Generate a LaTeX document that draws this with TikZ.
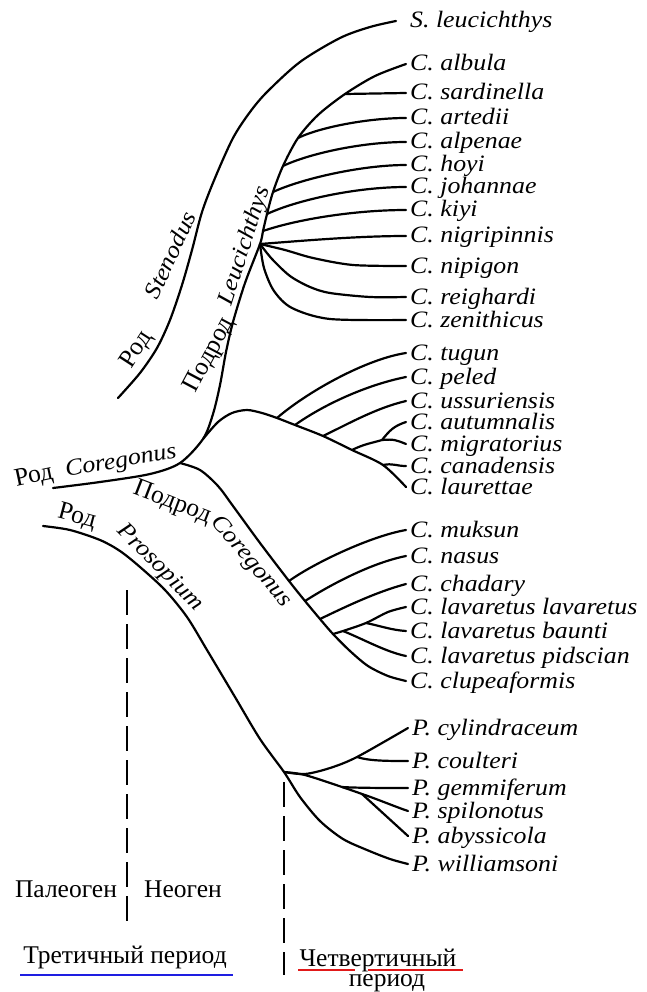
\documentclass[tikz,border=0pt]{standalone}
\usepackage{fontspec}
\setmainfont{Liberation Serif}
\newfontfamily\itfont[FakeStretch=1.1]{Liberation Serif}
\newcommand\leaffont{\itfont\itshape\fontsize{23.5pt}{26pt}\selectfont}
\newcommand\rufont{\rmfamily\upshape\fontsize{25.5pt}{28pt}\selectfont}
\definecolor{ublue}{RGB}{30,30,225}
\definecolor{ured}{RGB}{225,25,25}
\begin{document}
\begin{tikzpicture}[x=1pt,y=-1pt,
  br/.style={line width=2.2pt, line cap=round, line join=round},
  leaf/.style={anchor=west, inner xsep=4pt, inner ysep=0pt, text height=14pt, text depth=0pt, font=\leaffont},
  itlab/.style={inner sep=0pt, font=\leaffont},
  rulab/.style={inner sep=0pt, font=\rufont},
  era/.style={dash pattern=on 25pt off 9pt, line width=1.6pt},
  uline/.style={line width=2.8pt}
]
\useasboundingbox (0,0) rectangle (646,992);

% ---------- leaf labels ----------
\node[leaf] (sleu)   at (406,21)  {S. leucichthys};
\node[leaf] (albula) at (406,64)  {C. albula};
\node[leaf] (sard)   at (406,93)  {C. sardinella};
\node[leaf] (arted)  at (406,118) {C. artedii};
\node[leaf] (alpen)  at (406,142) {C. alpenae};
\node[leaf] (hoyi)   at (406,165) {C. hoyi};
\node[leaf] (johan)  at (406,187) {C. johannae};
\node[leaf] (kiyi)   at (406,210) {C. kiyi};
\node[leaf] (nigri)  at (406,236) {C. nigripinnis};
\node[leaf] (nipig)  at (406,266) {C. nipigon};
\node[leaf] (reigh)  at (406,297) {C. reighardi};
\node[leaf] (zenit)  at (406,320) {C. zenithicus};
\node[leaf] (tugun)  at (406,353) {C. tugun};
\node[leaf] (peled)  at (406,377) {C. peled};
\node[leaf] (ussur)  at (406,401) {C. ussuriensis};
\node[leaf] (autum)  at (406,422) {C. autumnalis};
\node[leaf] (migr)   at (406,444) {C. migratorius};
\node[leaf] (canad)  at (406,466) {C. canadensis};
\node[leaf] (laur)   at (406,487) {C. laurettae};
\node[leaf] (muks)   at (406,530) {C. muksun};
\node[leaf] (nasus)  at (406,556) {C. nasus};
\node[leaf] (chad)   at (406,584) {C. chadary};
\node[leaf] (lavl)   at (406,607) {C. lavaretus lavaretus};
\node[leaf] (baun)   at (406,631) {C. lavaretus baunti};
\node[leaf] (pids)   at (406,656) {C. lavaretus pidscian};
\node[leaf] (clup)   at (406,681) {C. clupeaformis};
\node[leaf] (cyl)    at (408,728) {P. cylindraceum};
\node[leaf] (coul)   at (408,761) {P. coulteri};
\node[leaf] (gemm)   at (408,788) {P. gemmiferum};
\node[leaf] (spil)   at (408,811) {P. spilonotus};
\node[leaf] (abys)   at (408,836) {P. abyssicola};
\node[leaf] (will)   at (408,864) {P. williamsoni};

% ---------- inner nodes ----------
\coordinate (sst)  at (118,398);
\coordinate (send) at ([xshift=-10pt]sleu.west);
\coordinate (croot) at (53,488);
\coordinate (C0) at (180,463);
\coordinate (T0) at (203,439);
\coordinate (F)  at (260,244);
\coordinate (Bkiy) at (263,231);
\coordinate (Bjoh) at (267,214);
\coordinate (Bhoy) at (273,192);
\coordinate (Balp) at (283,166);
\coordinate (Bart) at (298,138);
\coordinate (Bsar) at (345,94);
\coordinate (TG1) at (277,418);
\coordinate (TG2) at (295,425);
\coordinate (TG3) at (323,436);
\coordinate (TG4) at (352,450);
\coordinate (TG5) at (383,465);
\coordinate (AM)  at (382,440);
\coordinate (M1) at (289,581);
\coordinate (M2) at (305,601);
\coordinate (M3) at (320,619);
\coordinate (M4) at (333,634);
\coordinate (P1) at (343,631);
\coordinate (LB) at (366,623);
\coordinate (pst) at (43,526);
\coordinate (PN) at (284,772);
\coordinate (PA) at (357,757);
\coordinate (PB) at (342,787);
\coordinate (PS) at (362,794);

% ---------- Stenodus ----------
\draw[br] plot[smooth] coordinates {(sst) (140,373) (157,348) (170,320) (182,285) (192,250) (202,212) (215,178) (233,138) (250,112) (267,92) (300,62) (340,38) (370,27) (send)};

% ---------- Coregonus root + Leucichthys stem ----------
\draw[br] plot[smooth] coordinates {(croot) (100,482) (150,474) (C0) (T0) (213,414) (220,385) (226,352) (233,322) (245,283) (F) (Bkiy) (Bjoh) (Bhoy) (Balp) (Bart) (318,115) (Bsar) (375,76) (albula.west)};
\draw[br] (Bsar) -- (sard.west);
\draw[br] (Bart) .. controls +(20,-10) and +(-40,0) .. (arted.west);
\draw[br] (Balp) .. controls +(25,-12) and +(-45,0) .. (alpen.west);
\draw[br] (Bhoy) .. controls +(28,-13) and +(-45,0) .. (hoyi.west);
\draw[br] (Bjoh) .. controls +(30,-14) and +(-50,0) .. (johan.west);
\draw[br] (Bkiy) .. controls +(35,-12) and +(-50,0) .. (kiyi.west);
\draw[br] (F) .. controls +(40,-3) and +(-50,0) .. (nigri.west);
\draw[br] plot[smooth] coordinates {(F) (285,250) (313,258) (353,265) (nipig.west)};
\draw[br] plot[smooth] coordinates {(F) (272,259) (290,276) (310,287) (330,293) (370,297) (reigh.west)};
\draw[br] plot[smooth] coordinates {(F) (264,268) (274,291) (292,308) (330,319) (zenit.west)};

% ---------- tugun group ----------
\draw[br] plot[smooth] coordinates {(T0) (218,422) (232,413) (247,410) (262,413) (TG1) (TG2) (TG3) (TG4) (TG5) (laur.west)};
\draw[br] (TG1) .. controls +(30,-26) and +(-40,6) .. (tugun.west);
\draw[br] (TG2) .. controls +(28,-20) and +(-40,8) .. (peled.west);
\draw[br] (TG3) .. controls +(25,-12) and +(-30,7) .. (ussur.west);
\draw[br] (TG4) .. controls +(12,-6) and +(-10,3) .. (AM);
\draw[br] (AM) .. controls +(8,-10) and +(-12,4) .. (autum.west);
\draw[br] (AM) .. controls +(12,-1) and +(-10,-4) .. (migr.west);
\draw[br] (TG5) .. controls +(10,-2) and +(-10,0) .. (canad.west);

% ---------- subgenus Coregonus ----------
\draw[br] plot[smooth] coordinates {(C0) (200,470) (218,486) (233,506) (260,543) (M1) (M2) (M3) (M4) (350,651) (368,666) (388,676) (clup.west)};
\draw[br] (M1) .. controls +(25,-18) and +(-35,6) .. (muks.west);
\draw[br] (M2) .. controls +(25,-16) and +(-35,7) .. (nasus.west);
\draw[br] (M3) .. controls +(25,-12) and +(-30,8) .. (chad.west);
\draw[br] plot[smooth] coordinates {(M4) (P1) (LB) (388,612) (lavl.west)};
\draw[br] (LB) .. controls +(15,3) and +(-15,-1) .. (baun.west);
\draw[br] (P1) .. controls +(20,8) and +(-20,-4) .. (pids.west);

% ---------- Prosopium ----------
\draw[br] plot[smooth] coordinates {(pst) (70,530) (100,540) (120,551) (140,567) (165,590) (187,617) (207,650) (235,697) (260,739) (PN) (300,797) (320,821) (343,839) (367,850) (390,859) (will.west)};
\draw[br] plot[smooth] coordinates {(PN) (305,774) (330,768) (PA) (cyl.west)};
\draw[br] (PA) .. controls +(12,4) and +(-20,0) .. (coul.west);
\draw[br] plot[smooth] coordinates {(PN) (305,775) (PB) (PS)};
\draw[br] (PB) .. controls +(15,1) and +(-20,0) .. (gemm.west);
\draw[br] (PS) .. controls +(15,5) and +(-12,-4) .. (spil.west);
\draw[br] (PS) -- (abys.west);

% ---------- group labels ----------
\node[rulab, rotate=57] (rod1) at (137,350) {Род};
\node[itlab, rotate=65] (sten) at (170,255) {Stenodus};
\node[rulab, rotate=62] (podrod1) at (210,355) {Подрод};
\node[itlab, rotate=72] (leuc) at (245,246) {Leucichthys};
\node[rulab, rotate=12] (rod2) at (34,477) {Род};
\node[itlab, rotate=10] (coreg) at (121,462) {Coregonus};
\node[rulab, rotate=-21] (podrod2) at (172,503) {Подрод};
\node[itlab, rotate=-50] (coreg2) at (251,562) {Coregonus};
\node[rulab, rotate=-15] (rod3) at (77,517) {Род};
\node[itlab, rotate=-45] (prosop) at (160,568) {Prosopium};

% ---------- time scale ----------
\coordinate (d1t) at (127,590);
\coordinate (d1b) at (127,928);
\coordinate (d2t) at (284,782);
\coordinate (d2b) at (284,975);
\draw[era] (d1t) -- (d1b);
\draw[era] (d2t) -- (d2b);

\node[rulab, anchor=base] (paleo) at (66,897) {Палеоген};
\node[rulab, anchor=base] (neo) at (183,897) {Неоген};
\node[rulab, anchor=base] (tret) at (125,963) {Третичный период};
\node[rulab, anchor=base] (chet) at (378,966) {Четвертичный};
\node[rulab, anchor=base] (per) at (387,986) {период};

\coordinate (bl1) at (20,975);
\coordinate (bl2) at (233,975);
\draw[uline, ublue] (bl1) -- (bl2);
\coordinate (rl1) at (298,970);
\coordinate (rl2) at (355,970);
\coordinate (rl3) at (368,970);
\coordinate (rl4) at (463,970);
\draw[uline, ured, line width=2.5pt] (rl1) -- (rl2);
\draw[uline, ured, line width=2.5pt] (rl3) -- (rl4);
\end{tikzpicture}
\end{document}
